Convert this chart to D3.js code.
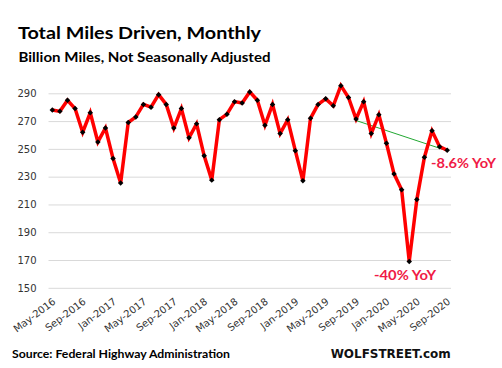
<!DOCTYPE html>
<html>
<head>
<meta charset="utf-8">
<script src="https://cdn.jsdelivr.net/npm/d3@7"></script>
<style>
  html, body { margin: 0; padding: 0; background: #fff; }
  svg { display: block; }
</style>
</head>
<body>
<div id="chart"></div>
<script>
// ---- Data ----
const months = [
  "May-2016","Jun-2016","Jul-2016","Aug-2016","Sep-2016","Oct-2016","Nov-2016","Dec-2016",
  "Jan-2017","Feb-2017","Mar-2017","Apr-2017","May-2017","Jun-2017","Jul-2017","Aug-2017","Sep-2017","Oct-2017","Nov-2017","Dec-2017",
  "Jan-2018","Feb-2018","Mar-2018","Apr-2018","May-2018","Jun-2018","Jul-2018","Aug-2018","Sep-2018","Oct-2018","Nov-2018","Dec-2018",
  "Jan-2019","Feb-2019","Mar-2019","Apr-2019","May-2019","Jun-2019","Jul-2019","Aug-2019","Sep-2019","Oct-2019","Nov-2019","Dec-2019",
  "Jan-2020","Feb-2020","Mar-2020","Apr-2020","May-2020","Jun-2020","Jul-2020","Aug-2020","Sep-2020"
];
const milesDriven = [
  278, 277, 285, 279, 262, 276, 255, 265,
  243, 225.5, 269, 273, 282, 280, 289, 282, 265, 279, 258, 268,
  245, 227.5, 271, 275, 284, 283, 291, 285, 267, 282, 261, 271,
  248.7, 227, 272, 282, 286, 281, 295.5, 287, 271.5, 284, 261, 274.6,
  254, 232, 220.6, 169, 213.5, 244, 263, 251.6, 249
];
const xTickLabels = ["May-2016","Sep-2016","Jan-2017","May-2017","Sep-2017","Jan-2018","May-2018","Sep-2018","Jan-2019","May-2019","Sep-2019","Jan-2020","May-2020","Sep-2020"];
const yTicks = [150, 170, 190, 210, 230, 250, 270, 290];
const trendFrom = "Sep-2019";
const trendTo = "Sep-2020";

// ---- Layout ----
const W = 502, H = 368;
const svg = d3.select("#chart").append("svg").attr("width", W).attr("height", H);

const x = d3.scaleBand().domain(months).range([48.5, 451]);
const y = d3.scaleLinear().domain([150, 290]).range([287.8, 93.3]);
const cx = m => x(m) + x.bandwidth() / 2;

// gridlines + y labels
const yAxis = d3.axisLeft(y).tickValues(yTicks).tickSize(-(451 - 48.5)).tickPadding(12);
const gy = svg.append("g").attr("transform", "translate(48.5,0)").call(yAxis);
gy.select(".domain").remove();
gy.selectAll(".tick line").attr("stroke", "#d9d9d9").attr("stroke-width", 1);
gy.selectAll(".tick text")
  .attr("font-family", "DejaVu Sans, Verdana, sans-serif")
  .attr("font-size", "10px").attr("fill", "#333");

// x labels
const xAxis = d3.axisBottom(x).tickValues(xTickLabels).tickSize(0).tickPadding(0);
const gx = svg.append("g").attr("transform", "translate(0,292)").call(xAxis);
gx.select(".domain").remove();
gx.selectAll(".tick text")
  .attr("font-family", "DejaVu Sans, Verdana, sans-serif")
  .attr("font-size", "10px").attr("fill", "#333")
  .attr("text-anchor", "end")
  .attr("dy", null)
  .attr("transform", "translate(4,11) rotate(-37)");

// trend line (green)
svg.append("line")
  .attr("x1", cx(trendFrom)).attr("y1", y(milesDriven[months.indexOf(trendFrom)]) + 1.5)
  .attr("x2", cx(trendTo)).attr("y2", y(milesDriven[months.indexOf(trendTo)]) + 0.5)
  .attr("stroke", "#22a832").attr("stroke-width", 1);

// red line
const line = d3.line().x((d, i) => cx(months[i])).y(d => y(d));
svg.append("path").datum(milesDriven)
  .attr("d", line)
  .attr("fill", "none").attr("stroke", "#ff0000").attr("stroke-width", 3.5)
  .attr("stroke-linejoin", "miter");

// markers
const sym = d3.symbol().type(d3.symbolSquare).size(15);
svg.append("g").selectAll("path").data(milesDriven).join("path")
  .attr("d", sym)
  .attr("transform", (d, i) => `translate(${cx(months[i])},${y(d)}) rotate(45)`)
  .attr("fill", "#000");

// annotations
svg.append("text").text("-8.6% YoY")
  .attr("x", 431).attr("y", 168)
  .attr("font-family", "Lato, 'Open Sans', sans-serif").attr("font-weight", "bold")
  .attr("font-size", "14px").attr("fill", "#f01a45")
  .attr("textLength", 65).attr("lengthAdjust", "spacingAndGlyphs");
svg.append("text").text("-40% YoY")
  .attr("x", 374).attr("y", 280)
  .attr("font-family", "Lato, 'Open Sans', sans-serif").attr("font-weight", "bold")
  .attr("font-size", "14px").attr("fill", "#f01a45")
  .attr("textLength", 62).attr("lengthAdjust", "spacingAndGlyphs");

// titles
svg.append("text").text("Total Miles Driven, Monthly")
  .attr("x", 18).attr("y", 39)
  .attr("font-family", "Lato, 'Open Sans', sans-serif").attr("font-weight", "bold")
  .attr("font-size", "17.5px").attr("fill", "#000")
  .attr("textLength", 243).attr("lengthAdjust", "spacingAndGlyphs");
svg.append("text").text("Billion Miles, Not Seasonally Adjusted")
  .attr("x", 18.5).attr("y", 61.5)
  .attr("font-family", "Lato, 'Open Sans', sans-serif").attr("font-weight", "bold")
  .attr("font-size", "14px").attr("fill", "#000")
  .attr("textLength", 252).attr("lengthAdjust", "spacingAndGlyphs");

// footer
svg.append("text").text("Source: Federal Highway Administration")
  .attr("x", 12).attr("y", 358.3)
  .attr("font-family", "Lato, 'Open Sans', sans-serif").attr("font-weight", "bold")
  .attr("font-size", "12px").attr("fill", "#000")
  .attr("textLength", 218).attr("lengthAdjust", "spacingAndGlyphs");
svg.append("text").text("WOLFSTREET.com")
  .attr("x", 330.7).attr("y", 358.3)
  .attr("font-family", "'DejaVu Sans', Verdana, sans-serif").attr("font-weight", "bold")
  .attr("font-size", "11.5px").attr("fill", "#111")
  .attr("textLength", 120).attr("lengthAdjust", "spacingAndGlyphs");
</script>
</body>
</html>
